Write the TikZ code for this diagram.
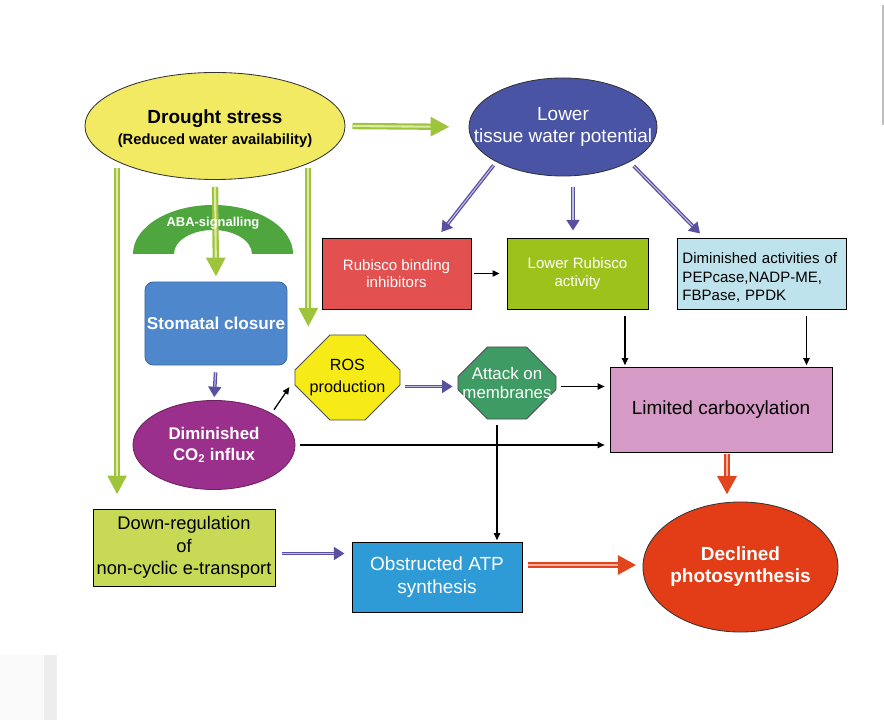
\documentclass[tikz,border=0pt]{standalone}
\usepackage{fontspec}
\setmainfont{Liberation Sans}
\usetikzlibrary{shapes.geometric,shapes.misc}
\usetikzlibrary{arrows.meta,calc}

\definecolor{droughtyellow}{HTML}{F2EA62}
\definecolor{lowerblue}{HTML}{4A54A4}
\definecolor{abagreen}{HTML}{4FA63E}
\definecolor{stomblue}{HTML}{4F87CD}
\definecolor{co2purple}{HTML}{9B2F8C}
\definecolor{rosyellow}{HTML}{F6EB16}
\definecolor{attackgreen}{HTML}{3E9B63}
\definecolor{rubred}{HTML}{E2504F}
\definecolor{lowrubgreen}{HTML}{9DC21C}
\definecolor{dimblue}{HTML}{BFE3EC}
\definecolor{limpink}{HTML}{D59AC6}
\definecolor{declred}{HTML}{E23D17}
\definecolor{downgreen}{HTML}{C8D955}
\definecolor{atpblue}{HTML}{2F9BD6}
\definecolor{arrG}{HTML}{9EC43B}
\definecolor{arrGl}{HTML}{DDEBA6}
\definecolor{arrP}{HTML}{5A50A2}
\definecolor{arrPl}{HTML}{C0BBE0}
\definecolor{arrR}{HTML}{E2441E}
\definecolor{arrRl}{HTML}{F6B09A}

\tikzset{
  box/.style={rectangle, draw=black, line width=0.6pt, inner sep=0pt, align=center},
  blob/.style={ellipse, draw=black!80, line width=0.6pt, inner sep=-20pt, align=center},
  octo/.style={chamfered rectangle, draw=black!70, line width=0.6pt, inner sep=0pt, align=center},
  big/.style={font=\fontsize{13.5}{16}\selectfont},
  small/.style={font=\fontsize{10.7}{12.5}\selectfont},
  % double line arrows: shaft with a pale core, filled head
  garrow/.style 2 args={draw=arrG, line width=4.5pt, shorten <=#1, shorten >=#2,
    -{Triangle[length=13.5pt,width=13pt]},
    postaction={draw=arrGl, line width=1.5pt, arrows=-, shorten >=#2+13.5pt}},
  parrow/.style 2 args={draw=arrP, line width=2.6pt, shorten <=#1, shorten >=#2,
    -{Triangle[length=7.5pt,width=9pt]},
    postaction={draw=arrPl, line width=0.8pt, arrows=-, shorten >=#2+7.5pt}},
  rarrow/.style 2 args={draw=arrR, line width=4.5pt, shorten <=#1, shorten >=#2,
    -{Triangle[length=13pt,width=13pt]},
    postaction={draw=arrRl, line width=1.5pt, arrows=-, shorten >=#2+13pt}},
  tarrow/.style 2 args={draw=black, line width=0.9pt, shorten <=#1, shorten >=#2,
    -{Triangle[length=5pt,width=4.5pt]}}
}

\begin{document}
\begin{tikzpicture}[x=0.025cm, y=-0.025cm]
\useasboundingbox (0,0) rectangle (884,720);

% Screen edges
\fill[gray!4] (0,655) rectangle (43,720);
\fill[gray!14] (44,655) rectangle (57,720);
\draw[gray!50, line width=0.8pt] (883,5) -- (883,125);

% Draw the ellipses
\node[blob, fill=droughtyellow, minimum width=6.5cm, minimum height=2.675cm] (drought) at (215,126)
  {\fontsize{13.5}{16}\selectfont\bfseries\rule{0pt}{14pt}Drought stress\\[3pt]
   \fontsize{10.5}{13}\selectfont\bfseries (Reduced water availability)};
\node[blob, fill=lowerblue, text=white, big, minimum width=4.7cm, minimum height=2.45cm] (lower) at (563,127)
  {Lower\\tissue water potential};
\node[blob, fill=co2purple, draw=co2purple!70!black, text=white, font=\bfseries\fontsize{12}{15}\selectfont,
  minimum width=4.05cm, minimum height=2.225cm] (co2) at (214,445)
  {Diminished\\CO\textsubscript{2} influx};
\node[blob, fill=declred, text=white, font=\bfseries\fontsize{13.5}{15.6}\selectfont,
  minimum width=4.875cm, minimum height=3.25cm] (declined) at (740.5,567)
  {Declined\\photosynthesis};

% Draw the boxes
\node[box, fill=stomblue, draw=stomblue!80!black, rounded corners=6pt, text=white,
  font=\bfseries\fontsize{12.2}{15}\selectfont, minimum width=3.55cm, minimum height=2.075cm] (stomata) at (216,323.5)
  {Stomatal closure};
\node[box, fill=rubred, text=white, small, minimum width=3.725cm, minimum height=1.775cm] (rubisco) at (396.5,273.5)
  {Rubisco binding\\inhibitors};
\node[box, fill=lowrubgreen, text=white, small, minimum width=3.525cm, minimum height=1.775cm] (lowrub) at (577.5,273.5)
  {Lower Rubisco\\activity};
\node[box, fill=dimblue, align=left, font=\fontsize{10.7}{13.2}\selectfont, text width=3.95cm,
  minimum width=4.225cm, minimum height=1.775cm] (dimact) at (761.5,273.5)
  {\rule{0pt}{13.5pt}Diminished activities of\\PEPcase,NADP-ME,\\FBPase, PPDK};
\node[box, fill=limpink, big, minimum width=5.55cm, minimum height=2.125cm] (limited) at (721,409.5)
  {Limited carboxylation};
\node[box, fill=downgreen, font=\fontsize{13}{16}\selectfont, minimum width=4.55cm, minimum height=1.925cm] (downreg) at (184,547.5)
  {Down-regulation\\of\\non-cyclic e-transport};
\node[box, fill=atpblue, text=white, font=\fontsize{13.5}{16.3}\selectfont, minimum width=4.25cm, minimum height=1.75cm] (atp) at (437,577)
  {Obstructed ATP\\synthesis};

% Draw the octagons
\node[octo, fill=rosyellow, font=\fontsize{11.5}{15}\selectfont, minimum width=2.625cm, minimum height=2.125cm,
  inner xsep=-2.5pt, chamfered rectangle xsep=0.45cm, chamfered rectangle ysep=0.43cm] (ros) at (347.5,377.5)
  {ROS\\production};
\node[octo, fill=attackgreen, text=white, font=\fontsize{12}{14}\selectfont, minimum width=2.45cm, minimum height=1.8cm,
  inner xsep=-7.5pt, chamfered rectangle xsep=0.37cm, chamfered rectangle ysep=0.37cm] (attack) at (507,383)
  {Attack on\\membranes};

% ABA-signalling arch
\fill[abagreen] (133,254) arc[start angle=180, end angle=0, x radius=2cm, y radius=1.225cm]
  -- (252,254) arc[start angle=0, end angle=180, x radius=0.975cm, y radius=0.6cm] -- cycle;

% Helper points for the straight connectors
\coordinate (ros-out) at ($(ros.east)+(2,9)$);
\coordinate (ros-in) at ($(ros.west)+(-2,5)$);
\coordinate (rb-in) at ($(rubisco.north)+(40.5,0)$);
\coordinate (lr-in) at ($(lowrub.north)+(-4.5,0)$);
\coordinate (dm-in) at ($(dimact.north)+(-57.5,0)$);
\coordinate (lr-out) at ($(lowrub.south)+(47.5,0)$);
\coordinate (dm-out) at ($(dimact.south)+(45,0)$);
\coordinate (dr-out) at ($(downreg.east)+(0,6)$);
\coordinate (lc-out) at ($(limited.south)+(6,0)$);
\coordinate (atp-out) at ($(atp.east)+(0,-12)$);
\coordinate (at-out) at ($(attack.south)+(-10,0)$);

% Green arrows from drought stress
\draw[garrow={5pt}{13.5pt}] (drought.east) -- (lower.west);
\draw[garrow={5pt}{3.5pt}] (drought.south) -- (stomata.north);
\draw[garrow={4.5pt}{10pt}] (drought.200) -- (drought.200 |- downreg.north);
\draw[garrow={3pt}{5.5pt}] (drought.338) -- (drought.338 |- ros.north);

\node[text=white, font=\bfseries\fontsize{9.2}{11}\selectfont, inner sep=1pt] (aba) at (213,223) {ABA-signalling};

% Purple arrows
\draw[parrow={5pt}{2pt}] (stomata.south) -- (co2.north);
\draw[parrow={1.5pt}{3.5pt}] (ros-out) -- (ros-out -| attack.west);
\draw[parrow={3pt}{5pt}] (lower.south west) -- (rb-in);
\draw[parrow={7.5pt}{5pt}] (lr-in |- lower.south) -- (lr-in);
\draw[parrow={4pt}{4pt}] (lower.south east) -- (dm-in);
\draw[parrow={5pt}{5pt}] (dr-out) -- (dr-out -| atp.west);

% Red arrows
\draw[rarrow={1pt}{5pt}] (lc-out) -- (lc-out |- declined.north);
\draw[rarrow={4pt}{4.5pt}] (atp-out) -- (atp-out -| declined.west);

% Thin black arrows
\draw[tarrow={3pt}{4pt}] (co2.north east) -- (ros-in);
\draw[tarrow={3.5pt}{3.5pt}] (co2.east) -- (co2.east -| limited.west);
\draw[tarrow={3pt}{3.5pt}] (ros-out -| attack.east) -- (ros-out -| limited.west);
\draw[tarrow={4pt}{1pt}] (at-out) -- (at-out |- atp.north);
\draw[tarrow={1.5pt}{5pt}] (rubisco.east) -- (lowrub.west);
\draw[tarrow={5pt}{1pt}] (lr-out) -- (lr-out |- limited.north);
\draw[tarrow={5pt}{1pt}] (dm-out) -- (dm-out |- limited.north);

\end{tikzpicture}
\end{document}
